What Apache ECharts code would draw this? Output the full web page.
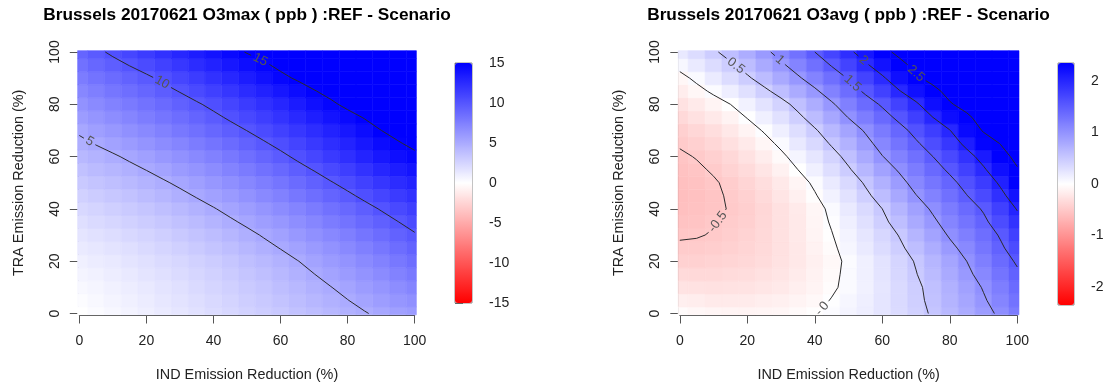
<!DOCTYPE html>
<html>
<head>
<meta charset="utf-8">
<title>Brussels 20170621 O3 REF - Scenario</title>
<script src="https://cdn.jsdelivr.net/npm/echarts@6/dist/echarts.min.js"></script>
<style>
  html, body { margin: 0; padding: 0; background: #fff; }
  #chart { width: 1107px; height: 389px; }
</style>
</head>
<body>
<div id="chart"></div>
<script>
// emission reduction steps (%) - IND along x, TRA along y
var indReduction = [0, 5, 10, 15, 20, 25, 30, 35, 40, 45, 50, 55, 60, 65, 70, 75, 80, 85, 90, 95, 100];
var traReduction = [0, 5, 10, 15, 20, 25, 30, 35, 40, 45, 50, 55, 60, 65, 70, 75, 80, 85, 90, 95, 100];

// REF - Scenario O3max (ppb), one row per TRA step (0 -> 100), one column per IND step
var o3maxDiff = [
  [0.00, 0.23, 0.47, 0.71, 0.96, 1.22, 1.48, 1.76, 2.04, 2.33, 2.62, 2.93, 3.24, 3.56, 3.88, 4.22, 4.56, 4.91, 5.26, 5.58, 5.90],
  [0.20, 0.42, 0.65, 0.89, 1.14, 1.40, 1.67, 1.96, 2.25, 2.55, 2.86, 3.19, 3.52, 3.87, 4.22, 4.60, 4.97, 5.36, 5.75, 6.15, 6.55],
  [0.39, 0.60, 0.82, 1.06, 1.31, 1.58, 1.85, 2.15, 2.45, 2.77, 3.09, 3.44, 3.80, 4.18, 4.56, 4.97, 5.38, 5.81, 6.24, 6.72, 7.20],
  [0.64, 0.85, 1.07, 1.31, 1.56, 1.83, 2.11, 2.42, 2.73, 3.07, 3.41, 3.78, 4.16, 4.57, 4.98, 5.42, 5.86, 6.33, 6.80, 7.34, 7.87],
  [0.90, 1.11, 1.32, 1.56, 1.81, 2.09, 2.37, 2.69, 3.02, 3.38, 3.74, 4.13, 4.53, 4.96, 5.40, 5.87, 6.35, 6.86, 7.37, 7.96, 8.55],
  [1.21, 1.43, 1.66, 1.91, 2.17, 2.47, 2.77, 3.11, 3.45, 3.83, 4.21, 4.62, 5.04, 5.49, 5.95, 6.44, 6.94, 7.48, 8.01, 8.60, 9.20],
  [1.53, 1.76, 2.00, 2.27, 2.54, 2.85, 3.17, 3.53, 3.89, 4.28, 4.68, 5.11, 5.55, 6.03, 6.51, 7.02, 7.54, 8.10, 8.66, 9.25, 9.85],
  [1.91, 2.15, 2.41, 2.69, 2.98, 3.31, 3.65, 4.02, 4.40, 4.81, 5.23, 5.68, 6.14, 6.64, 7.14, 7.68, 8.22, 8.80, 9.38, 9.97, 10.57],
  [2.29, 2.55, 2.82, 3.12, 3.43, 3.78, 4.13, 4.52, 4.92, 5.35, 5.79, 6.26, 6.74, 7.26, 7.78, 8.34, 8.90, 9.50, 10.11, 10.70, 11.30],
  [2.72, 3.00, 3.29, 3.61, 3.94, 4.31, 4.68, 5.09, 5.51, 5.97, 6.43, 6.93, 7.43, 7.98, 8.52, 9.11, 9.70, 10.33, 10.97, 11.54, 12.12],
  [3.16, 3.46, 3.76, 4.10, 4.45, 4.84, 5.24, 5.67, 6.11, 6.59, 7.07, 7.60, 8.13, 8.70, 9.27, 9.89, 10.51, 11.17, 11.83, 12.39, 12.95],
  [3.66, 3.98, 4.30, 4.66, 5.03, 5.44, 5.86, 6.31, 6.78, 7.28, 7.79, 8.34, 8.89, 9.49, 10.08, 10.73, 11.38, 12.06, 12.75, 13.28, 13.80],
  [4.15, 4.49, 4.83, 5.22, 5.61, 6.04, 6.47, 6.95, 7.44, 7.97, 8.50, 9.07, 9.65, 10.27, 10.89, 11.56, 12.24, 12.95, 13.67, 14.16, 14.65],
  [4.68, 5.07, 5.46, 5.87, 6.29, 6.74, 7.20, 7.69, 8.19, 8.73, 9.26, 9.83, 10.41, 11.02, 11.64, 12.29, 12.95, 13.64, 14.33, 14.85, 15.38],
  [5.20, 5.64, 6.08, 6.52, 6.97, 7.44, 7.92, 8.43, 8.94, 9.48, 10.02, 10.59, 11.17, 11.77, 12.38, 13.01, 13.65, 14.32, 14.99, 15.54, 16.10],
  [5.80, 6.25, 6.71, 7.16, 7.62, 8.11, 8.60, 9.13, 9.66, 10.22, 10.78, 11.38, 11.98, 12.61, 13.25, 13.87, 14.50, 15.08, 15.65, 16.17, 16.70],
  [6.40, 6.86, 7.33, 7.80, 8.27, 8.77, 9.28, 9.82, 10.37, 10.95, 11.54, 12.16, 12.78, 13.44, 14.11, 14.73, 15.35, 15.83, 16.30, 16.80, 17.30],
  [7.05, 7.54, 8.03, 8.51, 9.00, 9.53, 10.07, 10.65, 11.24, 11.84, 12.45, 13.08, 13.72, 14.31, 14.91, 15.45, 15.99, 16.46, 16.93, 17.40, 17.88],
  [7.70, 8.21, 8.72, 9.22, 9.72, 10.29, 10.86, 11.48, 12.10, 12.73, 13.36, 14.00, 14.65, 15.17, 15.70, 16.16, 16.62, 17.08, 17.55, 18.00, 18.45],
  [8.37, 8.94, 9.50, 10.05, 10.61, 11.20, 11.78, 12.39, 13.00, 13.62, 14.23, 14.78, 15.33, 15.81, 16.30, 16.76, 17.21, 17.65, 18.10, 18.54, 18.98],
  [9.04, 9.66, 10.28, 10.88, 11.49, 12.10, 12.70, 13.30, 13.90, 14.50, 15.09, 15.55, 16.00, 16.45, 16.90, 17.35, 17.80, 18.22, 18.65, 19.08, 19.50]
];

// REF - Scenario O3avg (ppb), same layout
var o3avgDiff = [
  [-0.04, -0.07, -0.09, -0.10, -0.10, -0.09, -0.08, -0.05, -0.01, 0.04, 0.10, 0.16, 0.24, 0.33, 0.42, 0.53, 0.65, 0.77, 0.91, 1.05, 1.21],
  [-0.15, -0.17, -0.19, -0.19, -0.18, -0.16, -0.14, -0.10, -0.06, 0.01, 0.08, 0.15, 0.24, 0.34, 0.44, 0.56, 0.69, 0.82, 0.97, 1.12, 1.29],
  [-0.26, -0.27, -0.28, -0.27, -0.26, -0.23, -0.20, -0.15, -0.10, -0.03, 0.05, 0.13, 0.23, 0.34, 0.45, 0.58, 0.72, 0.87, 1.02, 1.19, 1.36],
  [-0.34, -0.35, -0.35, -0.33, -0.31, -0.28, -0.24, -0.18, -0.12, -0.05, 0.05, 0.14, 0.25, 0.37, 0.49, 0.63, 0.78, 0.94, 1.10, 1.28, 1.45],
  [-0.42, -0.42, -0.41, -0.39, -0.36, -0.32, -0.27, -0.21, -0.14, -0.06, 0.04, 0.14, 0.26, 0.39, 0.52, 0.67, 0.83, 1.00, 1.18, 1.36, 1.54],
  [-0.47, -0.47, -0.45, -0.42, -0.39, -0.34, -0.28, -0.21, -0.12, -0.04, 0.08, 0.19, 0.32, 0.45, 0.60, 0.76, 0.93, 1.09, 1.26, 1.45, 1.65],
  [-0.52, -0.51, -0.49, -0.45, -0.41, -0.35, -0.28, -0.20, -0.10, -0.01, 0.11, 0.23, 0.37, 0.51, 0.68, 0.85, 1.03, 1.18, 1.34, 1.53, 1.76],
  [-0.55, -0.54, -0.51, -0.47, -0.43, -0.36, -0.28, -0.20, -0.09, 0.02, 0.15, 0.29, 0.44, 0.60, 0.78, 0.95, 1.12, 1.28, 1.44, 1.65, 1.89],
  [-0.58, -0.56, -0.53, -0.49, -0.44, -0.37, -0.28, -0.19, -0.08, 0.05, 0.19, 0.34, 0.50, 0.68, 0.87, 1.04, 1.21, 1.37, 1.53, 1.76, 2.02],
  [-0.59, -0.57, -0.53, -0.48, -0.42, -0.34, -0.24, -0.14, -0.02, 0.12, 0.27, 0.44, 0.61, 0.80, 0.99, 1.15, 1.32, 1.49, 1.67, 1.91, 2.18],
  [-0.58, -0.56, -0.52, -0.46, -0.39, -0.30, -0.20, -0.09, 0.04, 0.19, 0.35, 0.53, 0.72, 0.91, 1.10, 1.26, 1.42, 1.60, 1.80, 2.05, 2.34],
  [-0.56, -0.53, -0.48, -0.41, -0.33, -0.24, -0.13, 0.00, 0.14, 0.30, 0.47, 0.66, 0.86, 1.03, 1.21, 1.38, 1.55, 1.75, 1.96, 2.21, 2.47],
  [-0.53, -0.49, -0.43, -0.36, -0.27, -0.17, -0.05, 0.09, 0.23, 0.40, 0.58, 0.78, 0.99, 1.15, 1.32, 1.50, 1.68, 1.89, 2.11, 2.36, 2.60],
  [-0.48, -0.43, -0.37, -0.29, -0.19, -0.08, 0.05, 0.20, 0.35, 0.53, 0.71, 0.91, 1.11, 1.28, 1.46, 1.64, 1.84, 2.08, 2.32, 2.51, 2.68],
  [-0.43, -0.37, -0.30, -0.21, -0.10, 0.02, 0.15, 0.30, 0.47, 0.65, 0.84, 1.03, 1.22, 1.40, 1.59, 1.78, 1.99, 2.27, 2.53, 2.66, 2.76],
  [-0.35, -0.28, -0.20, -0.11, 0.01, 0.14, 0.28, 0.44, 0.62, 0.81, 1.01, 1.20, 1.38, 1.57, 1.77, 2.00, 2.23, 2.44, 2.63, 2.73, 2.81],
  [-0.27, -0.19, -0.10, 0.00, 0.12, 0.26, 0.41, 0.58, 0.76, 0.96, 1.17, 1.36, 1.54, 1.74, 1.95, 2.22, 2.47, 2.61, 2.72, 2.80, 2.86],
  [-0.17, -0.07, 0.04, 0.16, 0.29, 0.44, 0.60, 0.77, 0.95, 1.15, 1.35, 1.55, 1.75, 1.98, 2.20, 2.41, 2.60, 2.71, 2.79, 2.85, 2.89],
  [-0.07, 0.05, 0.18, 0.32, 0.46, 0.62, 0.79, 0.96, 1.14, 1.33, 1.52, 1.73, 1.95, 2.21, 2.45, 2.60, 2.72, 2.80, 2.86, 2.90, 2.92],
  [0.07, 0.19, 0.32, 0.46, 0.61, 0.78, 0.95, 1.13, 1.32, 1.52, 1.73, 1.95, 2.18, 2.40, 2.59, 2.70, 2.79, 2.85, 2.90, 2.92, 2.94],
  [0.20, 0.32, 0.46, 0.60, 0.76, 0.93, 1.11, 1.30, 1.50, 1.71, 1.93, 2.16, 2.40, 2.58, 2.72, 2.80, 2.86, 2.90, 2.93, 2.94, 2.95]
];

var o3maxLevels = [5, 10, 15];
var o3avgLevels = [-0.5, 0, 0.5, 1, 1.5, 2, 2.5];

var o3maxBarTicks = [-15, -10, -5, 0, 5, 10, 15];
var o3avgBarTicks = [-2, -1, 0, 1, 2];

var FONT = '"Liberation Sans", Arial, Helvetica, sans-serif';
var EDGE = 0.5;         // image overhang past the outer grid points
var LABEL_SIZE = 13;
// where the label sits along each contour (fraction of its length, from the top end)
var o3maxLabelAt = [0.035, 0.18, 0.09];
var o3avgLabelAt = [0.68, 0.97, 0.065, 0.035, 0.165, 0.056, 0.19];

var measureCtx = document.createElement('canvas').getContext('2d');
measureCtx.font = LABEL_SIZE + 'px ' + FONT;

function cellEdges(centres) {
  return centres.map(function (c, i) {
    var lo = i === 0 ? c - EDGE : (centres[i - 1] + c) / 2;
    var hi = i === centres.length - 1 ? c + EDGE : (c + centres[i + 1]) / 2;
    return [lo, hi];
  });
}
var xEdges = cellEdges(indReduction);
var yEdges = cellEdges(traReduction);

function heatData(grid) {
  var out = [];
  grid.forEach(function (row, j) {
    row.forEach(function (v, i) {
      out.push([indReduction[i], traReduction[j], v, i, j]);
    });
  });
  return out;
}

function renderCell(params, api) {
  var i = api.value(3), j = api.value(4);
  var p1 = api.coord([xEdges[i][0], yEdges[j][1]]);
  var p2 = api.coord([xEdges[i][1], yEdges[j][0]]);
  var c = api.visual('color');
  return {
    type: 'rect',
    shape: { x: p1[0], y: p1[1], width: p2[0] - p1[0], height: p2[1] - p1[1] },
    style: { fill: c, stroke: c, lineWidth: 0.6 }
  };
}

//marching squares on the grid
function contourSegments(grid, level) {
  var xs = indReduction, ys = traReduction, segs = [];
  function cross(x1, y1, v1, x2, y2, v2, out) {
    if ((v1 < level) !== (v2 < level)) {
      var t = (level - v1) / (v2 - v1);
      out.push([x1 + t * (x2 - x1), y1 + t * (y2 - y1)]);
    }
  }
  for (var j = 0; j < ys.length - 1; j++) {
    for (var i = 0; i < xs.length - 1; i++) {
      var a = grid[j][i], b = grid[j][i + 1], c = grid[j + 1][i + 1], d = grid[j + 1][i];
      var pts = [];
      cross(xs[i], ys[j], a, xs[i + 1], ys[j], b, pts);
      cross(xs[i + 1], ys[j], b, xs[i + 1], ys[j + 1], c, pts);
      cross(xs[i], ys[j + 1], d, xs[i + 1], ys[j + 1], c, pts);
      cross(xs[i], ys[j], a, xs[i], ys[j + 1], d, pts);
      if (pts.length === 2) segs.push(pts);
      else if (pts.length === 4) { segs.push([pts[0], pts[1]]); segs.push([pts[2], pts[3]]); }
    }
  }
  return segs;
}

function chainSegments(segs) {
  var key = function (p) { return p[0].toFixed(3) + '_' + p[1].toFixed(3); };
  var used = segs.map(function () { return false; });
  var lines = [];
  for (var s = 0; s < segs.length; s++) {
    if (used[s]) continue;
    used[s] = true;
    var line = segs[s].slice();
    for (var pass = 0; pass < 2; pass++) {
      var grown = true;
      while (grown) {
        grown = false;
        var endKey = key(line[line.length - 1]);
        for (var k = 0; k < segs.length; k++) {
          if (used[k]) continue;
          if (key(segs[k][0]) === endKey) line.push(segs[k][1]);
          else if (key(segs[k][1]) === endKey) line.push(segs[k][0]);
          else continue;
          used[k] = true;
          grown = true;
          break;
        }
      }
      line.reverse();
    }
    // start from the upper end
    var first = line[0], last = line[line.length - 1];
    if (first[1] < last[1] || (first[1] === last[1] && first[0] > last[0])) line.reverse();
    lines.push(line);
  }
  return lines;
}

function pointAt(px, cum, s) {
  s = Math.max(0, Math.min(cum[cum.length - 1], s));
  for (var n = 1; n < px.length; n++) {
    if (cum[n] >= s) {
      var t = (s - cum[n - 1]) / ((cum[n] - cum[n - 1]) || 1);
      return [px[n - 1][0] + t * (px[n][0] - px[n - 1][0]), px[n - 1][1] + t * (px[n][1] - px[n - 1][1])];
    }
  }
  return px[px.length - 1];
}

function contourSeries(grid, levels, labelAt, axisIndex) {
  var lines = [];
  levels.forEach(function (lv, k) {
    chainSegments(contourSegments(grid, lv)).forEach(function (pts) {
      lines.push({ pts: pts, text: String(lv), at: labelAt[k] });
    });
  });
  return {
    type: 'custom',
    xAxisIndex: axisIndex,
    yAxisIndex: axisIndex,
    clip: false,
    silent: true,
    z: 3,
    data: lines.map(function (l, n) { return [l.pts[0][0], l.pts[0][1], n]; }),
    renderItem: function (params, api) {
      var line = lines[api.value(2)];
      var px = line.pts.map(function (p) { return api.coord(p); });
      var cum = [0];
      for (var n = 1; n < px.length; n++) {
        cum.push(cum[n - 1] + Math.hypot(px[n][0] - px[n - 1][0], px[n][1] - px[n - 1][1]));
      }
      var s0 = line.at * cum[cum.length - 1];
      var half = (measureCtx.measureText(line.text).width + 6) / 2;
      var pa = pointAt(px, cum, s0 - half), pb = pointAt(px, cum, s0 + half);
      var before = [], after = [pb];
      for (n = 0; n < px.length; n++) {
        if (cum[n] < s0 - half) before.push(px[n]);
        if (cum[n] > s0 + half) after.push(px[n]);
      }
      before.push(pa);
      var ang = Math.atan2(-(pb[1] - pa[1]), pb[0] - pa[0]);
      if (ang > Math.PI / 2) ang -= Math.PI;
      if (ang < -Math.PI / 2) ang += Math.PI;
      var mid = pointAt(px, cum, s0);
      var lineStyle = { stroke: '#2a2a2a', lineWidth: 1, fill: 'none' };
      var children = [];
      if (before.length > 1) children.push({ type: 'polyline', shape: { points: before }, style: lineStyle });
      if (after.length > 1) children.push({ type: 'polyline', shape: { points: after }, style: lineStyle });
      children.push({
        type: 'text', x: mid[0], y: mid[1], rotation: ang,
        style: { text: line.text, fill: '#555', fontSize: LABEL_SIZE, fontFamily: FONT, align: 'center', verticalAlign: 'middle' }
      });
      return { type: 'group', children: children };
    }
  };
}

function plotX(gridIndex) {
  return {
    type: 'value', gridIndex: gridIndex, min: 0, max: 100, interval: 20, offset: 2,
    axisLine: { onZero: false, lineStyle: { color: '#444', width: 1 } },
    axisTick: { length: 8, lineStyle: { color: '#555' } },
    axisLabel: { margin: 19, color: '#222', fontSize: 14, fontFamily: FONT },
    splitLine: { show: false },
    name: 'IND Emission Reduction (%)', nameLocation: 'middle', nameGap: 53,
    nameTextStyle: { color: '#222', fontSize: 14.4, fontFamily: FONT }
  };
}

function plotY(gridIndex) {
  return {
    type: 'value', gridIndex: gridIndex, min: 0, max: 100, interval: 20, offset: 1.5,
    axisLine: { onZero: false, lineStyle: { color: '#444', width: 1 } },
    axisTick: { length: 8, lineStyle: { color: '#555' } },
    axisLabel: { rotate: 90, margin: 16, color: '#222', fontSize: 14, fontFamily: FONT },
    splitLine: { show: false },
    name: 'TRA Emission Reduction (%)', nameLocation: 'middle', nameGap: 52, nameRotate: 90,
    nameTextStyle: { color: '#222', fontSize: 14.4, fontFamily: FONT }
  };
}

function barX(gridIndex) {
  return { type: 'value', gridIndex: gridIndex, min: 0, max: 1, show: false };
}

function barY(gridIndex, lim, ticks) {
  return {
    type: 'value', gridIndex: gridIndex, min: -lim, max: lim, position: 'right',
    axisLine: { show: false },
    axisTick: { length: 8, customValues: ticks, lineStyle: { color: '#666' } },
    axisLabel: { margin: 17, customValues: ticks, color: '#222', fontSize: 14, fontFamily: FONT },
    splitLine: { show: false }
  };
}

var chart = echarts.init(document.getElementById('chart'));

var titleStyle = { color: '#000', fontSize: 17.25, fontWeight: 'bold', fontFamily: FONT };
var ramp = ['#ff0000', '#ffffff', '#0000ff'];

var option = {
  animation: false,
  title: [
    { text: 'Brussels 20170621 O3max ( ppb ) :REF - Scenario', left: 247, top: 7, padding: 0, textAlign: 'center', textStyle: titleStyle },
    { text: 'Brussels 20170621 O3avg ( ppb ) :REF - Scenario', left: 848.5, top: 7, padding: 0, textAlign: 'center', textStyle: titleStyle }
  ],
  grid: [
    { left: 79.3, top: 52, width: 335.4, height: 261.5 },
    { left: 679.8, top: 52, width: 337.5, height: 261.5 },
    { left: 455, top: 63, width: 17, height: 240, show: true, borderColor: '#888', borderWidth: 1 },
    { left: 1058, top: 63, width: 16, height: 242, show: true, borderColor: '#888', borderWidth: 1 }
  ],
  xAxis: [plotX(0), plotX(1), barX(2), barX(3)],
  yAxis: [plotY(0), plotY(1), barY(2, 15, o3maxBarTicks), barY(3, 2.35, o3avgBarTicks)],
  visualMap: [
    {
      type: 'continuous', seriesIndex: 0, dimension: 2, min: -15, max: 15,
      calculable: false, hoverLink: false, padding: 0, text: null,
      left: 455, top: 63, itemWidth: 17, itemHeight: 240,
      inRange: { color: ramp }
    },
    {
      type: 'continuous', seriesIndex: 2, dimension: 2, min: -2.35, max: 2.35,
      calculable: false, hoverLink: false, padding: 0, text: null,
      left: 1058, top: 63, itemWidth: 16, itemHeight: 242,
      inRange: { color: ramp }
    }
  ],
  series: [
    { type: 'custom', xAxisIndex: 0, yAxisIndex: 0, clip: false, silent: true, data: heatData(o3maxDiff), renderItem: renderCell },
    contourSeries(o3maxDiff, o3maxLevels, o3maxLabelAt, 0),
    { type: 'custom', xAxisIndex: 1, yAxisIndex: 1, clip: false, silent: true, data: heatData(o3avgDiff), renderItem: renderCell },
    contourSeries(o3avgDiff, o3avgLevels, o3avgLabelAt, 1)
  ]
};

chart.setOption(option);
</script>
</body>
</html>
